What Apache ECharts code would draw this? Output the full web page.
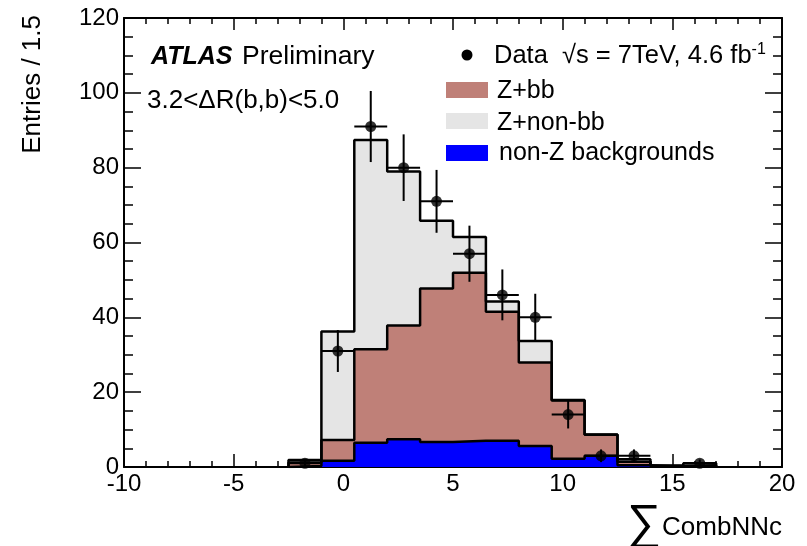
<!DOCTYPE html>
<html><head><meta charset="utf-8">
<script src="https://cdn.jsdelivr.net/npm/echarts@6/dist/echarts.min.js"></script>
<style>html,body{margin:0;padding:0;background:#fff}#c{width:807px;height:546px}</style>
</head><body><div id="c"></div>
<script>
// ---- data ----
const binEdges   = [-10,-8.5,-7,-5.5,-4,-2.5,-1,0.5,2,3.5,5,6.5,8,9.5,11,12.5,14,15.5,17,18.5,20];
const nonZ       = [0,0,0,0,0,0.3,1.7,6.5,7.4,6.7,7.0,7.0,5.6,2.2,3.0,0.5,0.1,0.1,0,0];
const zbb        = [0,0,0,0,0,0.9,5.5,25.0,30.4,41.0,44.9,34.5,22.3,15.6,5.6,0.9,0.2,0.4,0,0];
const znonbb     = [0,0,0,0,0,0.7,29.0,55.9,41.2,18.1,9.6,2.7,5.8,0.1,0.1,0.7,0.1,0.5,0,0];
const dataCounts = [0,0,0,0,0,1,31,91,80,71,57,46,40,14,3,3,0,1,0,0];
const dataErrors = [0,0,0,0,0,1,5.6,9.5,8.9,8.4,7.5,6.8,6.3,3.7,1.7,1.7,0,1,0,0];
const xRange = [-10, 20];
const yRange = [0, 120];

const FONT = "'Liberation Sans', Arial, Helvetica, sans-serif";
const COL_BLUE = '#0000ff', COL_BROWN = '#bf8078', COL_GRAY = '#e5e5e5';

const nb = binEdges.length - 1;
const lvl1 = [], lvl2 = [], lvl3 = [];
for (let i = 0; i < nb; i++) {
  lvl1.push(nonZ[i]);
  lvl2.push(nonZ[i] + zbb[i]);
  lvl3.push(nonZ[i] + zbb[i] + znonbb[i]);
}
let first = -1, last = -1;
for (let i = 0; i < nb; i++) if (lvl3[i] > 0) { if (first < 0) first = i; last = i; }

function fillItems(lo, hi) {
  const out = [];
  for (let i = 0; i < nb; i++) if (hi[i] > lo[i]) out.push([binEdges[i], binEdges[i+1], lo[i], hi[i]]);
  return out;
}
const zeros = new Array(nb).fill(0);

function rectRender(color) {
  return function (params, api) {
    const p0 = api.coord([api.value(0), api.value(3)]);
    const p1 = api.coord([api.value(1), api.value(2)]);
    const x0 = Math.round(p0[0]), x1 = Math.round(p1[0]);
    const y0 = Math.round(p0[1]), y1 = Math.round(p1[1]);
    return { type: 'rect', shape: { x: x0, y: y0, width: x1 - x0, height: y1 - y0 },
             style: { fill: color } };
  };
}
function outline(lvl) {
  const pts = [[binEdges[first], 0]];
  for (let i = first; i <= last; i++) pts.push([binEdges[i], lvl[i]]);
  pts.push([binEdges[last + 1], 0]);
  return pts;
}

const fillSeries = [
  [zeros, lvl1, COL_BLUE], [lvl1, lvl2, COL_BROWN], [lvl2, lvl3, COL_GRAY]
].map(([lo, hi, c]) => ({
  type: 'custom', renderItem: rectRender(c), data: fillItems(lo, hi), z: 2, silent: true,
  encode: { x: [0, 1], y: [2, 3] }
}));

const outlineSeries = [lvl1, lvl2, lvl3].map(l => ({
  type: 'line', step: 'end', data: outline(l), symbol: 'none', z: 3, silent: true,
  lineStyle: { color: '#000', width: 2.5 }
}));

const pointItems = [];
for (let i = 0; i < nb; i++) if (dataCounts[i] > 0)
  pointItems.push([(binEdges[i] + binEdges[i+1]) / 2, dataCounts[i], dataErrors[i], binEdges[i], binEdges[i+1]]);

const errSeries = {
  type: 'custom', z: 4, silent: true, data: pointItems, encode: { x: 0, y: 1 },
  renderItem: function (params, api) {
    const x = api.value(0), y = api.value(1), e = api.value(2);
    const a = api.coord([x, y - e]), b = api.coord([x, y + e]);
    const l = api.coord([api.value(3), y]), r = api.coord([api.value(4), y]);
    return { type: 'group', children: [
      { type: 'line', shape: { x1: a[0], y1: a[1], x2: b[0], y2: b[1] }, style: { stroke: '#000', lineWidth: 2 } },
      { type: 'line', shape: { x1: l[0], y1: l[1], x2: r[0], y2: r[1] }, style: { stroke: '#000', lineWidth: 2 } }
    ]};
  }
};
const scatterSeries = {
  type: 'scatter', z: 5, silent: true, symbol: 'circle', symbolSize: 11,
  itemStyle: { color: '#000' }, data: pointItems.map(p => [p[0], p[1]])
};

function xAx(pos, labels) {
  return {
    type: 'value', min: xRange[0], max: xRange[1], interval: 5, position: pos,
    axisLine: { show: true, onZero: false, lineStyle: { color: '#000', width: 2 } },
    axisTick: { show: true, inside: true, length: pos === 'top' ? 12 : 13, lineStyle: { color: '#000', width: 1.5 } },
    minorTick: { show: true, splitNumber: 5, length: 6, lineStyle: { color: '#000', width: 1.5 } },
    axisLabel: { show: labels, color: '#000', fontSize: 24, fontFamily: FONT, margin: 5, showMinLabel: true, showMaxLabel: true },
    splitLine: { show: false }, minorSplitLine: { show: false }
  };
}
function yAx(pos, labels) {
  return {
    type: 'value', min: yRange[0], max: yRange[1], interval: 20, position: pos,
    axisLine: { show: true, onZero: false, lineStyle: { color: '#000', width: 2 } },
    axisTick: { show: true, inside: true, length: 17, lineStyle: { color: '#000', width: 1.5 } },
    minorTick: { show: true, splitNumber: 4, length: 9, lineStyle: { color: '#000', width: 1.5 } },
    axisLabel: { show: labels, color: '#000', fontSize: 24, fontFamily: FONT, margin: 5, showMinLabel: true, showMaxLabel: true },
    splitLine: { show: false }, minorSplitLine: { show: false }
  };
}

const T = (x, y, text, extra) => ({ type: 'text', x, y, silent: true, z: 20,
  style: Object.assign({ text, fill: '#000', font: '25px ' + FONT, verticalAlign: 'middle', align: 'left' }, extra || {}) });
const R = (x, y, w, h, c) => ({ type: 'rect', silent: true, z: 20, shape: { x, y, width: w, height: h }, style: { fill: c } });

const yTitle = T(33, 15, 'Entries / 1.5', { align: 'right', font: '26px ' + FONT });
yTitle.rotation = Math.PI / 2;

const graphics = [
  T(151, 57, 'ATLAS', { font: 'italic bold 25px ' + FONT }),
  T(242, 57, 'Preliminary', { font: '26.5px ' + FONT }),
  T(147, 101, '3.2<ΔR(b,b)<5.0', { font: '26px ' + FONT }),
  { type: 'circle', silent: true, z: 20, shape: { cx: 467, cy: 55, r: 5.5 }, style: { fill: '#000' } },
  { type: 'text', x: 494, y: 56, silent: true, z: 20, style: {
      text: '{a|Data  √s = 7TeV, 4.6 fb}{s|-1}', verticalAlign: 'middle', align: 'left',
      rich: { a: { font: '25.5px ' + FONT, fill: '#000' }, s: { font: '16px ' + FONT, fill: '#000', verticalAlign: 'top', padding: [0, 0, 12, 0] } } } },
  R(446, 82, 42, 16, COL_BROWN), T(497, 91, 'Z+bb'),
  R(446, 113, 42, 16, COL_GRAY), T(497, 123, 'Z+non-bb'),
  R(446, 145, 42, 16, COL_BLUE), T(499, 153, 'non-Z backgrounds'),
  yTitle,
  T(627, 525, '∑', { font: '48px ' + FONT }),
  T(782, 528, 'CombNNc', { align: 'right', font: '26px ' + FONT })
];

const chart = echarts.init(document.getElementById('c'), null, { renderer: 'canvas' });
chart.setOption({
  animation: false,
  backgroundColor: '#fff',
  grid: { left: 124, right: 25, top: 18, bottom: 79, containLabel: false, outerBoundsMode: 'none' },
  xAxis: [xAx('bottom', true), xAx('top', false)],
  yAxis: [yAx('left', true), yAx('right', false)],
  series: [...fillSeries, ...outlineSeries, errSeries, scatterSeries],
  graphic: graphics
});
</script></body></html>
